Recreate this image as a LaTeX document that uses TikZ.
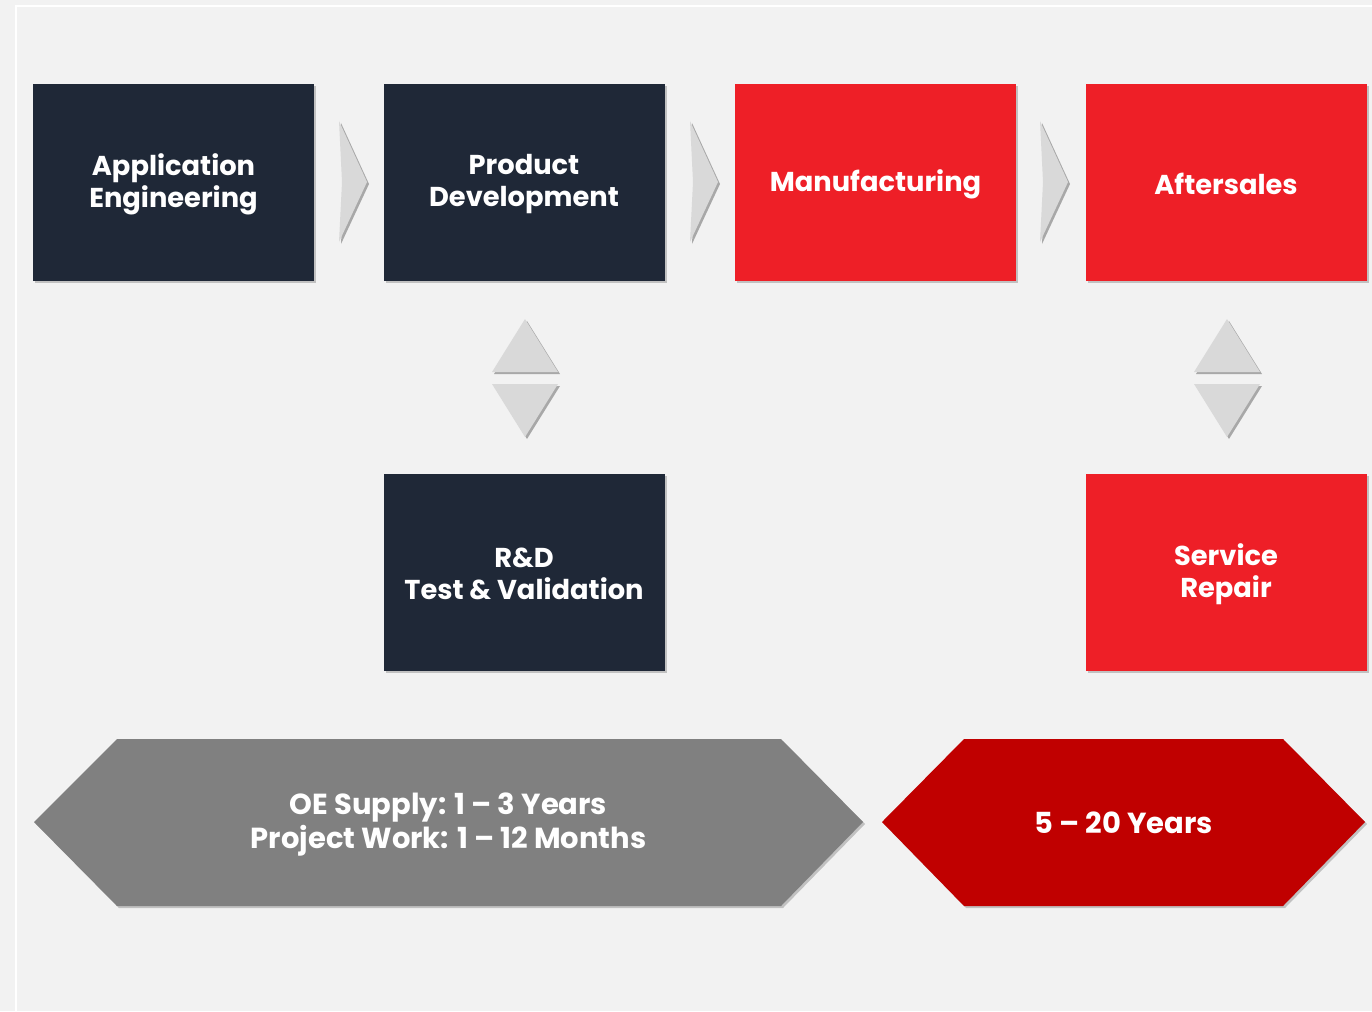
\documentclass[tikz,border=0pt]{standalone}
\usepackage{fontspec}
\setmainfont{Poppins}
\usetikzlibrary{shadows}
\definecolor{navy}{HTML}{1F2837}
\definecolor{brightred}{HTML}{EE1F27}
\definecolor{darkred}{HTML}{C00000}
\definecolor{midgray}{HTML}{808080}
\definecolor{paper}{HTML}{F2F2F2}
\definecolor{tri}{HTML}{D9D9D9}
\tikzset{
  shade/.style={drop shadow={shadow xshift=2pt, shadow yshift=-2pt, opacity=0.2, fill=black}},
  stagebox/.style={shade, minimum width=281pt, minimum height=197pt, inner sep=0pt},
  navybox/.style={stagebox, fill=navy},
  redbox/.style={stagebox, fill=brightred},
  caption/.style={text=white, align=center, font=\fontsize{27.3}{32}\selectfont\bfseries},
  tribox/.style={fill=tri, drop shadow={shadow xshift=2pt, shadow yshift=-2pt, opacity=0.3, fill=black}},
  spanshade/.style={drop shadow={shadow xshift=2pt, shadow yshift=-2pt, opacity=0.2, fill=black}},
  spanlabel/.style={text=white, align=center, font=\fontsize{29}{34}\selectfont\bfseries}
}
\begin{document}
\begin{tikzpicture}[x=1pt, y=-1pt]
  % page
  \fill[paper] (0,0) rectangle (1372,1011);
  \useasboundingbox (0,0) rectangle (1372,1011);
  \draw[white, line width=2pt] (16,1011) -- (16,6) -- (1372,6);

  % stage boxes
  \node[navybox] (app) at (173.5,182.5) {};
  \node[navybox] (dev) at (524,182.5) {};
  \node[redbox] (man) at (875.5,182.5) {};
  \node[redbox] (aft) at (1226,182.5) {};
  \node[navybox] (rnd) at (524,572) {};
  \node[redbox] (svc) at (1226,572) {};

  % stage captions
  \node[caption] (appT) at ([yshift=-2pt]app.center) {Application\\Engineering};
  \node[caption] (devT) at ([yshift=-2pt]dev.center) {Product\\Development};
  \node[caption] (manT) at ([yshift=-2pt]man.center) {Manufacturing};
  \node[caption] (aftT) at ([yshift=-1pt]aft.center) {Aftersales};
  \node[caption] (rndT) at ([yshift=-2pt]rnd.center) {R\&D\\Test \& Validation};
  \node[caption] (svcT) at ([yshift=-2pt]svc.center) {Service\\Repair};

  % flow chevrons between stages
  \foreach \xa in {339,690,1040}{
    \path[tribox] (\xa,121) -- (\xa+28,182) -- (\xa,242) -- (\xa+3,182) -- cycle;
  }

  % two-way markers between stacked stages
  \foreach \xc in {525,1227}{
    \path[tribox] (\xc-33,372) -- (\xc,319) -- (\xc+33,372) -- cycle;
    \path[tribox] (\xc-33,384) -- (\xc+33,384) -- (\xc,437) -- cycle;
  }

  % duration spans
  \fill[midgray, spanshade]
    (34,822) -- (117,739) -- (781,739) -- (863,822) -- (781,906) -- (117,906) -- cycle;
  \node[spanlabel] (oe) at (448.5,825) {OE Supply: 1 -- 3 Years\\Project Work: 1 -- 12 Months};

  \fill[darkred, spanshade]
    (882,822) -- (964,739) -- (1283,739) -- (1365,822) -- (1283,906) -- (964,906) -- cycle;
  \node[spanlabel] (yrs) at (1123.5,823) {5 -- 20 Years};
\end{tikzpicture}
\end{document}
